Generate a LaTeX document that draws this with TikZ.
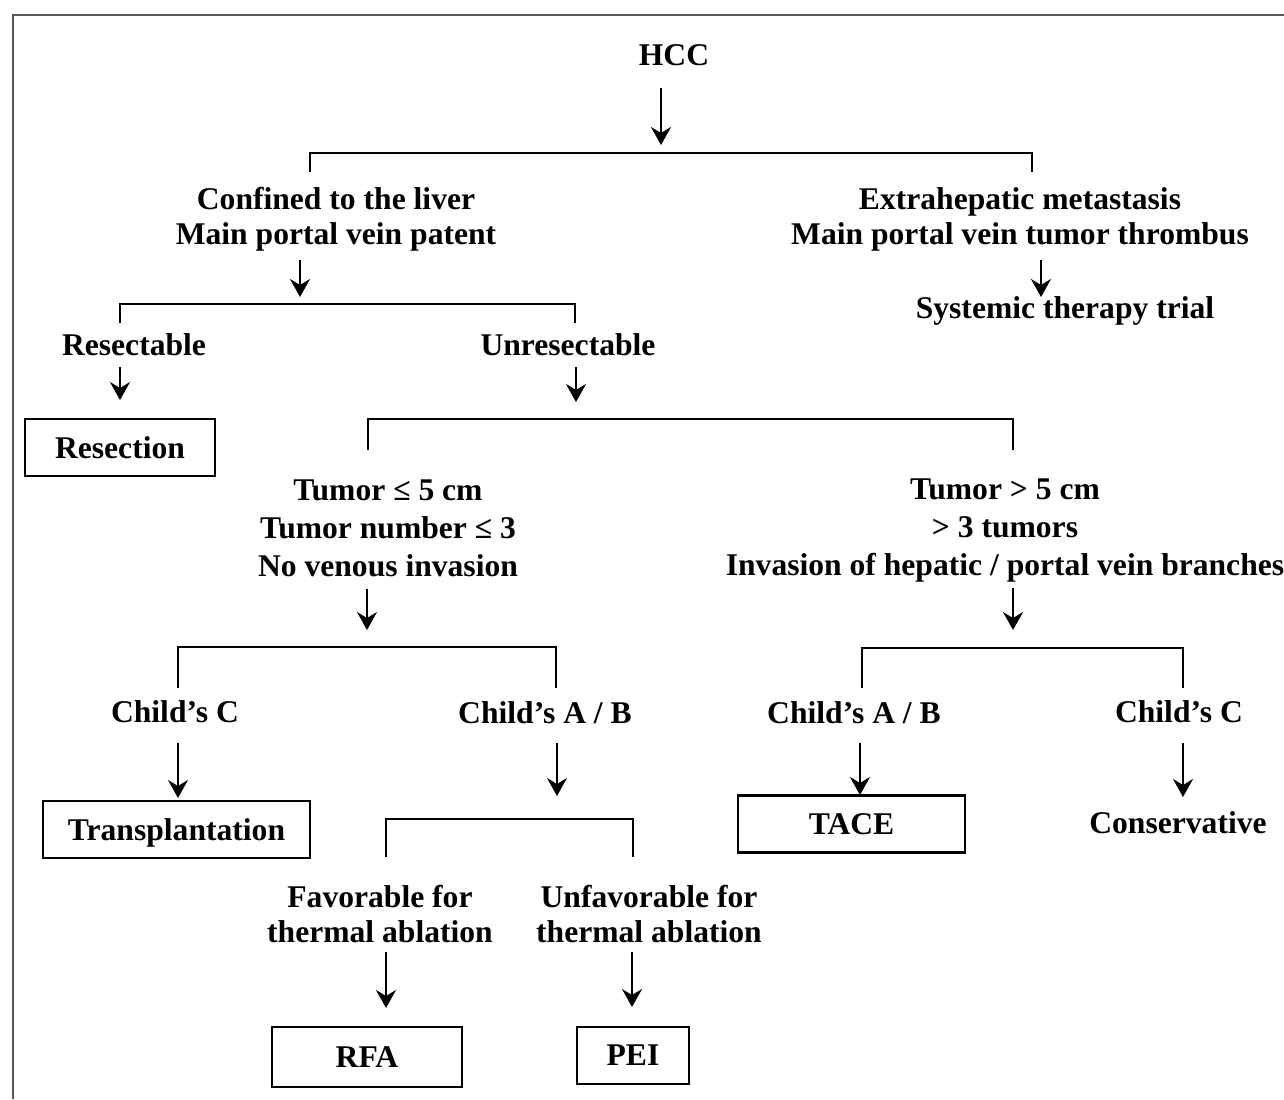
\documentclass[tikz,border=0pt]{standalone}
\usepackage{fontspec}
\setmainfont{Liberation Serif}
\usetikzlibrary{arrows.meta, positioning}
\tikzset{%
	txt/.style={align=center, inner sep=0pt,%
		font=\fontsize{15.8}{17.5}\selectfont\bfseries},
	tall/.style={txt, font=\fontsize{15.8}{19}\selectfont\bfseries},
	box/.style={draw, line width=1.3pt, minimum height=28.5pt, inner sep=0pt,%
		font=\fontsize{15.8}{17.5}\selectfont\bfseries},
	connector/.style={line width=1.2pt},
	sel/.style={-{Stealth[length=9pt, width=10pt, inset=3pt]}, line width=1pt},
	frame/.style={draw=black!65, line width=0.6pt}
}

\begin{document}
\begin{tikzpicture}[x=0.5pt, y=-0.5pt]
	\useasboundingbox (0,0) rectangle (1284,1099);
	\draw[frame] (13,1099) |- (1284,15);

	% conditions and treatments
	\node[txt] (hcc)   at (674,55)  {HCC};
	\node[txt] (liver) at (336,219) {Confined to the liver\\Main portal vein patent};
	\node[txt] (extra) at (1020,219) {Extrahepatic metastasis\\Main portal vein tumor thrombus};
	\node[txt] (sys)   at (1065,311) {Systemic therapy trial};
	\node[txt] (res)   at (134,345) {Resectable};
	\node[txt] (unres) at (568,345) {Unresectable};
	\node[box, minimum width=95pt] (resection) at (120,447.5) {Resection};
	\node[tall] (small) at (388,528) {Tumor ≤ 5 cm\\Tumor number ≤ 3\\No venous invasion};
	\node[tall] (large) at (1005,531) {Tumor > 5 cm\\> 3 tumors\\Invasion of hepatic / portal vein branches};
	\node[txt] (cl)    at (175,712) {Child’s C};
	\node[txt] (abl)   at (545,713) {Child’s A / B};
	\node[txt] (abr)   at (854,713) {Child’s A / B};
	\node[txt] (cr)    at (1179,712) {Child’s C};
	\node[box, minimum width=133.5pt, text depth=-2pt] (transp) at (176.5,829.5) {Transplantation};
	\node[box, minimum width=113.5pt] (tace)   at (851.5,824) {TACE};
	\node[txt] (cons)  at (1178,823) {Conservative};
	\node[txt] (fav)   at (380,914) {Favorable for\\thermal ablation};
	\node[txt] (unfav) at (649,914) {Unfavorable for\\thermal ablation};
	\node[box, minimum width=95pt, minimum height=30pt] (rfa) at (367,1057) {RFA};
	\node[box, minimum width=56pt] (pei) at (633,1055.5) {PEI};

	% arrow tips
	\coordinate (t1)  at (661,145);
	\coordinate (t2)  at (300,297);
	\coordinate (t3)  at (1041,297);
	\coordinate (t4)  at (120,400);
	\coordinate (t5)  at (576,402);
	\coordinate (t6)  at (367,630);
	\coordinate (t7)  at (1013,630);
	\coordinate (t8)  at (178,798);
	\coordinate (t9)  at (557,796);
	\coordinate (t10) at (860,795);
	\coordinate (t11) at (1183,797);
	\coordinate (t12) at (386,1008);
	\coordinate (t13) at (632,1007);

	\draw[sel, shorten <=11pt]  (hcc.south -| t1)   -- (t1);
	\draw[sel, shorten <=4.5pt] (liver.south -| t2) -- (t2);
	\draw[sel, shorten <=4.5pt] (extra.south -| t3) -- (t3);
	\draw[sel, shorten <=5pt]   (res.south -| t4)   -- (t4);
	\draw[sel, shorten <=5pt]   (unres.south -| t5) -- (t5);
	\draw[sel, shorten <=6pt]   (small.south -| t6) -- (t6);
	\draw[sel, shorten <=2.5pt] (large.south -| t7) -- (t7);
	\draw[sel, shorten <=9.5pt] (cl.south -| t8)    -- (t8);
	\draw[sel, shorten <=9pt]   (abl.south -| t9)   -- (t9);
	\draw[sel, shorten <=9pt]   (abr.south -| t10)  -- (t10);
	\draw[sel, shorten <=9.5pt] (cr.south -| t11)   -- (t11);
	\draw[sel, shorten <=4.5pt] (fav.south -| t12)  -- (t12);
	\draw[sel, shorten <=4.5pt] (unfav.south -| t13) -- (t13);

	% brackets
	\draw[connector] (310,172) |- (661,153)  -| (1032,172);
	\draw[connector] (120,323) |- (300,304)  -| (575,323);
	\draw[connector] (368,450) |- (576,419)  -| (1013,450);
	\draw[connector] (178,688) |- (367,647)  -| (556,688);
	\draw[connector] (862,688) |- (1013,648) -| (1183,688);
	\draw[connector] (386,857) |- (557,819)  -| (633,857);

\end{tikzpicture}
\end{document}
